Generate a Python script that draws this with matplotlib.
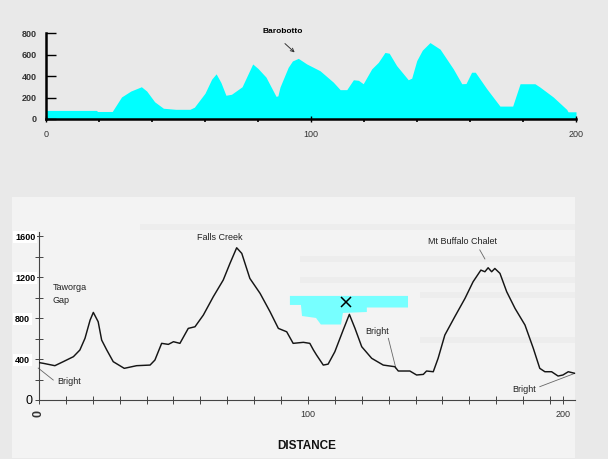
import matplotlib
matplotlib.use("Agg")
import matplotlib.pyplot as plt
from matplotlib.patches import Rectangle, Polygon
from matplotlib.ticker import MultipleLocator

plt.rcParams['font.family'] = ['Liberation Sans', 'DejaVu Sans']

# top profile (cyan), distance km vs elevation m
top_km = [0, 19, 19.5, 25, 28.5, 32, 36, 38, 41, 44.3,
          49, 54.3, 56, 60, 62.5, 64.2, 66, 67.9, 70, 74,
          78, 80, 83, 86.8, 87.5, 88.3, 91.4, 93, 95.2, 98.4,
          103.4, 108.4, 111, 113.5, 116, 117.9, 119.7, 122.9, 125.4, 127.9,
          129.5, 132.3, 136.7, 138, 139.9, 142, 144.9, 148.7, 153.7, 156.9,
          158.5, 160.6, 162, 166.3, 171.3, 176.1, 178.9, 184.5, 186.4, 191.4,
          196.5, 197, 200]
top_elev = [80, 80, 70, 70, 205, 260, 300, 260, 160, 100,
            90, 90, 110, 240, 370, 420, 340, 221, 230, 300,
            512, 470, 390, 211, 215, 297, 481, 540, 564, 512,
            449, 343, 273, 273, 365, 360, 328, 466, 527, 619,
            612, 497, 365, 380, 543, 640, 711, 650, 466, 328,
            330, 435, 435, 282, 120, 120, 328, 328, 297, 205,
            89, 67, 67]

# bottom profile (scanned line)
bot_km = [0, 1.6, 5.9, 9.0, 12.8, 15.2, 17.1, 19, 20.2, 22,
          23.3, 25.2, 27.6, 31.7, 36.3, 41.3, 43.1, 45.6, 48.1, 50,
          52.4, 55.5, 58, 61.1, 64.8, 68.5, 71, 73.5, 75.4, 78.4,
          82.2, 85.9, 89, 92.1, 94.5, 98.3, 100.7, 102, 103.2, 105.7,
          107.5, 110, 113.1, 115.4, 117.5, 120, 123.7, 128, 132.3, 133.6,
          137.9, 140.4, 142.9, 144.1, 146.6, 148.4, 150.9, 154.6, 158.4, 161.4,
          164.3, 165.8, 167, 168.3, 169.5, 171.4, 173.9, 177, 180.7, 183.8,
          186.2, 188.1, 190.6, 193, 194.8, 196.8, 199.3]
bot_elev = [365, 358, 335, 374, 423, 488, 602, 780, 855, 764,
            585, 488, 374, 309, 335, 341, 390, 553, 543, 569,
            553, 699, 715, 829, 1008, 1171, 1333, 1486, 1431, 1187,
            1041, 862, 699, 666, 553, 563, 553, 490, 439, 341,
            350, 471, 683, 836, 699, 520, 407, 341, 325, 283,
            283, 244, 250, 283, 276, 407, 634, 813, 992, 1154,
            1268, 1252, 1291, 1252, 1284, 1236, 1057, 894, 732, 504,
            309, 276, 276, 234, 244, 276, 260]

top_yticks = [0, 200, 400, 600, 800]
top_xticks = [0, 100, 200]
bot_yticks = [0, 400, 800, 1200, 1600]
bot_xtick_pos = [0, 100, 195]
bot_xtick_labels = ['0', '100', '200']

# cyan overlay pasted on the scan
cyan_km = [93.3, 137.2, 137.2, 121.9, 121.9, 113.0, 112.3, 104.8, 103.0, 97.8, 97.4, 93.3]
cyan_elev = [1016, 1016, 903, 903, 859, 850, 737, 737, 801, 820, 928, 928]

fig = plt.figure(figsize=(6.08, 4.59), dpi=100, facecolor='#e9e9e9')

# light scanned area
fig.patches.append(Rectangle((12/608, 1/459), 563/608, 261/459, transform=fig.transFigure,
                             facecolor='#f3f3f3', edgecolor='none', zorder=-2))
for yb, x0 in [(262, 300), (283, 300), (298, 420), (343, 420), (230, 140)]:
    fig.patches.append(Rectangle((x0/608, 1-yb/459), (575-x0)/608, 6/459, transform=fig.transFigure,
                                 facecolor='#ededed', edgecolor='none', zorder=-1))

# ---- top chart
ax1 = fig.add_axes([46/608, 1-119/459, 530/608, 86/459])
ax1.set_facecolor('none')
ax1.fill_between(top_km, 0, top_elev, color='#00ffff', lw=0)
ax1.set_xlim(0, 200)
ax1.set_ylim(0, 800)
for s in ['top', 'right']:
    ax1.spines[s].set_visible(False)
for s in ['left', 'bottom']:
    ax1.spines[s].set_linewidth(1.8)
    ax1.spines[s].set_color('black')
ax1.set_yticks(top_yticks)
ax1.set_xticks(top_xticks)
ax1.xaxis.set_minor_locator(MultipleLocator(20))
ax1.tick_params(axis='y', direction='in', length=7, width=1, pad=6.5,
                labelsize=6.5, labelcolor='#333333')
ax1.tick_params(axis='x', which='major', direction='inout', length=4, width=1, pad=6,
                labelsize=6.5, labelcolor='#333333')
ax1.tick_params(axis='x', which='minor', direction='out', length=2, width=1.2)
for lab in ax1.get_yticklabels():
    lab.set_fontweight('bold')
ax1.text(89.4, 812, 'Barobotto', ha='center', va='center', fontsize=6,
         fontweight='bold', clip_on=False)
ax1.annotate('', xy=(94.6, 602), xytext=(89.4, 719),
             arrowprops=dict(arrowstyle='->', color='#333333', lw=0.7,
                             mutation_scale=6), annotation_clip=False)

# ---- bottom chart
ax2 = fig.add_axes([39/608, 1-400/459, 536/608, 168/459])
ax2.set_facecolor('none')
ax2.set_xlim(0, 199.3)
ax2.set_ylim(0, 1640)
for s in ['top', 'right']:
    ax2.spines[s].set_visible(False)
for s in ['left', 'bottom']:
    ax2.spines[s].set_linewidth(0.8)
    ax2.spines[s].set_color('#444444')

ax2.add_patch(Polygon(list(zip(cyan_km, cyan_elev)), closed=True,
                      facecolor='#77ffff', edgecolor='none', zorder=1))
ax2.plot(bot_km, bot_elev, color='#151515', lw=1.05, zorder=3)
ax2.plot([114.1], [961], marker='x', color='black', ms=7, mew=1.1, zorder=4)

ax2.set_yticks(bot_yticks)
ax2.yaxis.set_minor_locator(MultipleLocator(200))
ax2.set_xticks(bot_xtick_pos, bot_xtick_labels)
ax2.xaxis.set_minor_locator(MultipleLocator(10))
ax2.tick_params(axis='both', which='both', direction='inout', length=6, width=0.7,
                color='#444444')
ax2.tick_params(axis='y', pad=-3, labelsize=6.5)
ax2.tick_params(axis='x', pad=4, labelsize=6.5, labelcolor='#333333')
for lab in ax2.get_yticklabels():
    lab.set_horizontalalignment('left')
    lab.set_x(-24/536)
    lab.set_fontweight('bold')
    lab.set_bbox(dict(facecolor='white', edgecolor='none', pad=1.2))
ylabs = ax2.get_yticklabels()
ylabs[0].set_fontsize(9)
ylabs[0].set_fontweight('normal')
ylabs[0].set_bbox(dict(facecolor='none', edgecolor='none'))
ylabs[0].set_x(-13/536)
xlabs = ax2.get_xticklabels()
xlabs[0].set_fontsize(9)
xlabs[0].set_fontweight('bold')
xlabs[0].set_rotation(90)

note_kw = dict(fontsize=6.5, color='#222222', family=['Liberation Sans Narrow', 'Liberation Sans'])
lead_kw = dict(color='#666666', lw=0.6, clip_on=False)
ax2.text(67.3, 1582, 'Falls Creek', ha='center', va='center', **note_kw)
ax2.text(5.2, 1035, 'Taworga\nGap', ha='left', va='center', linespacing=1.5, **note_kw)
ax2.text(6.7, 176, 'Bright', ha='left', va='center', **note_kw)
ax2.plot([-0.3, 5.3], [312, 195], **lead_kw)
ax2.text(121.2, 664, 'Bright', ha='left', va='center', **note_kw)
ax2.plot([129.9, 132.7], [602, 309], **lead_kw)
ax2.text(157.4, 1543, 'Mt Buffalo Chalet', ha='center', va='center', **note_kw)
ax2.plot([163.9, 165.8], [1465, 1377], **lead_kw)
ax2.text(175.8, 107, 'Bright', ha='left', va='center', **note_kw)
ax2.plot([186.2, 199.3], [130, 261], **lead_kw)

fig.text(307/608, 1-446/459, 'DISTANCE', ha='center', va='center',
         fontsize=8.5, fontweight='bold', color='#111111')

fig.savefig('out.png', dpi=100, facecolor=fig.get_facecolor())
